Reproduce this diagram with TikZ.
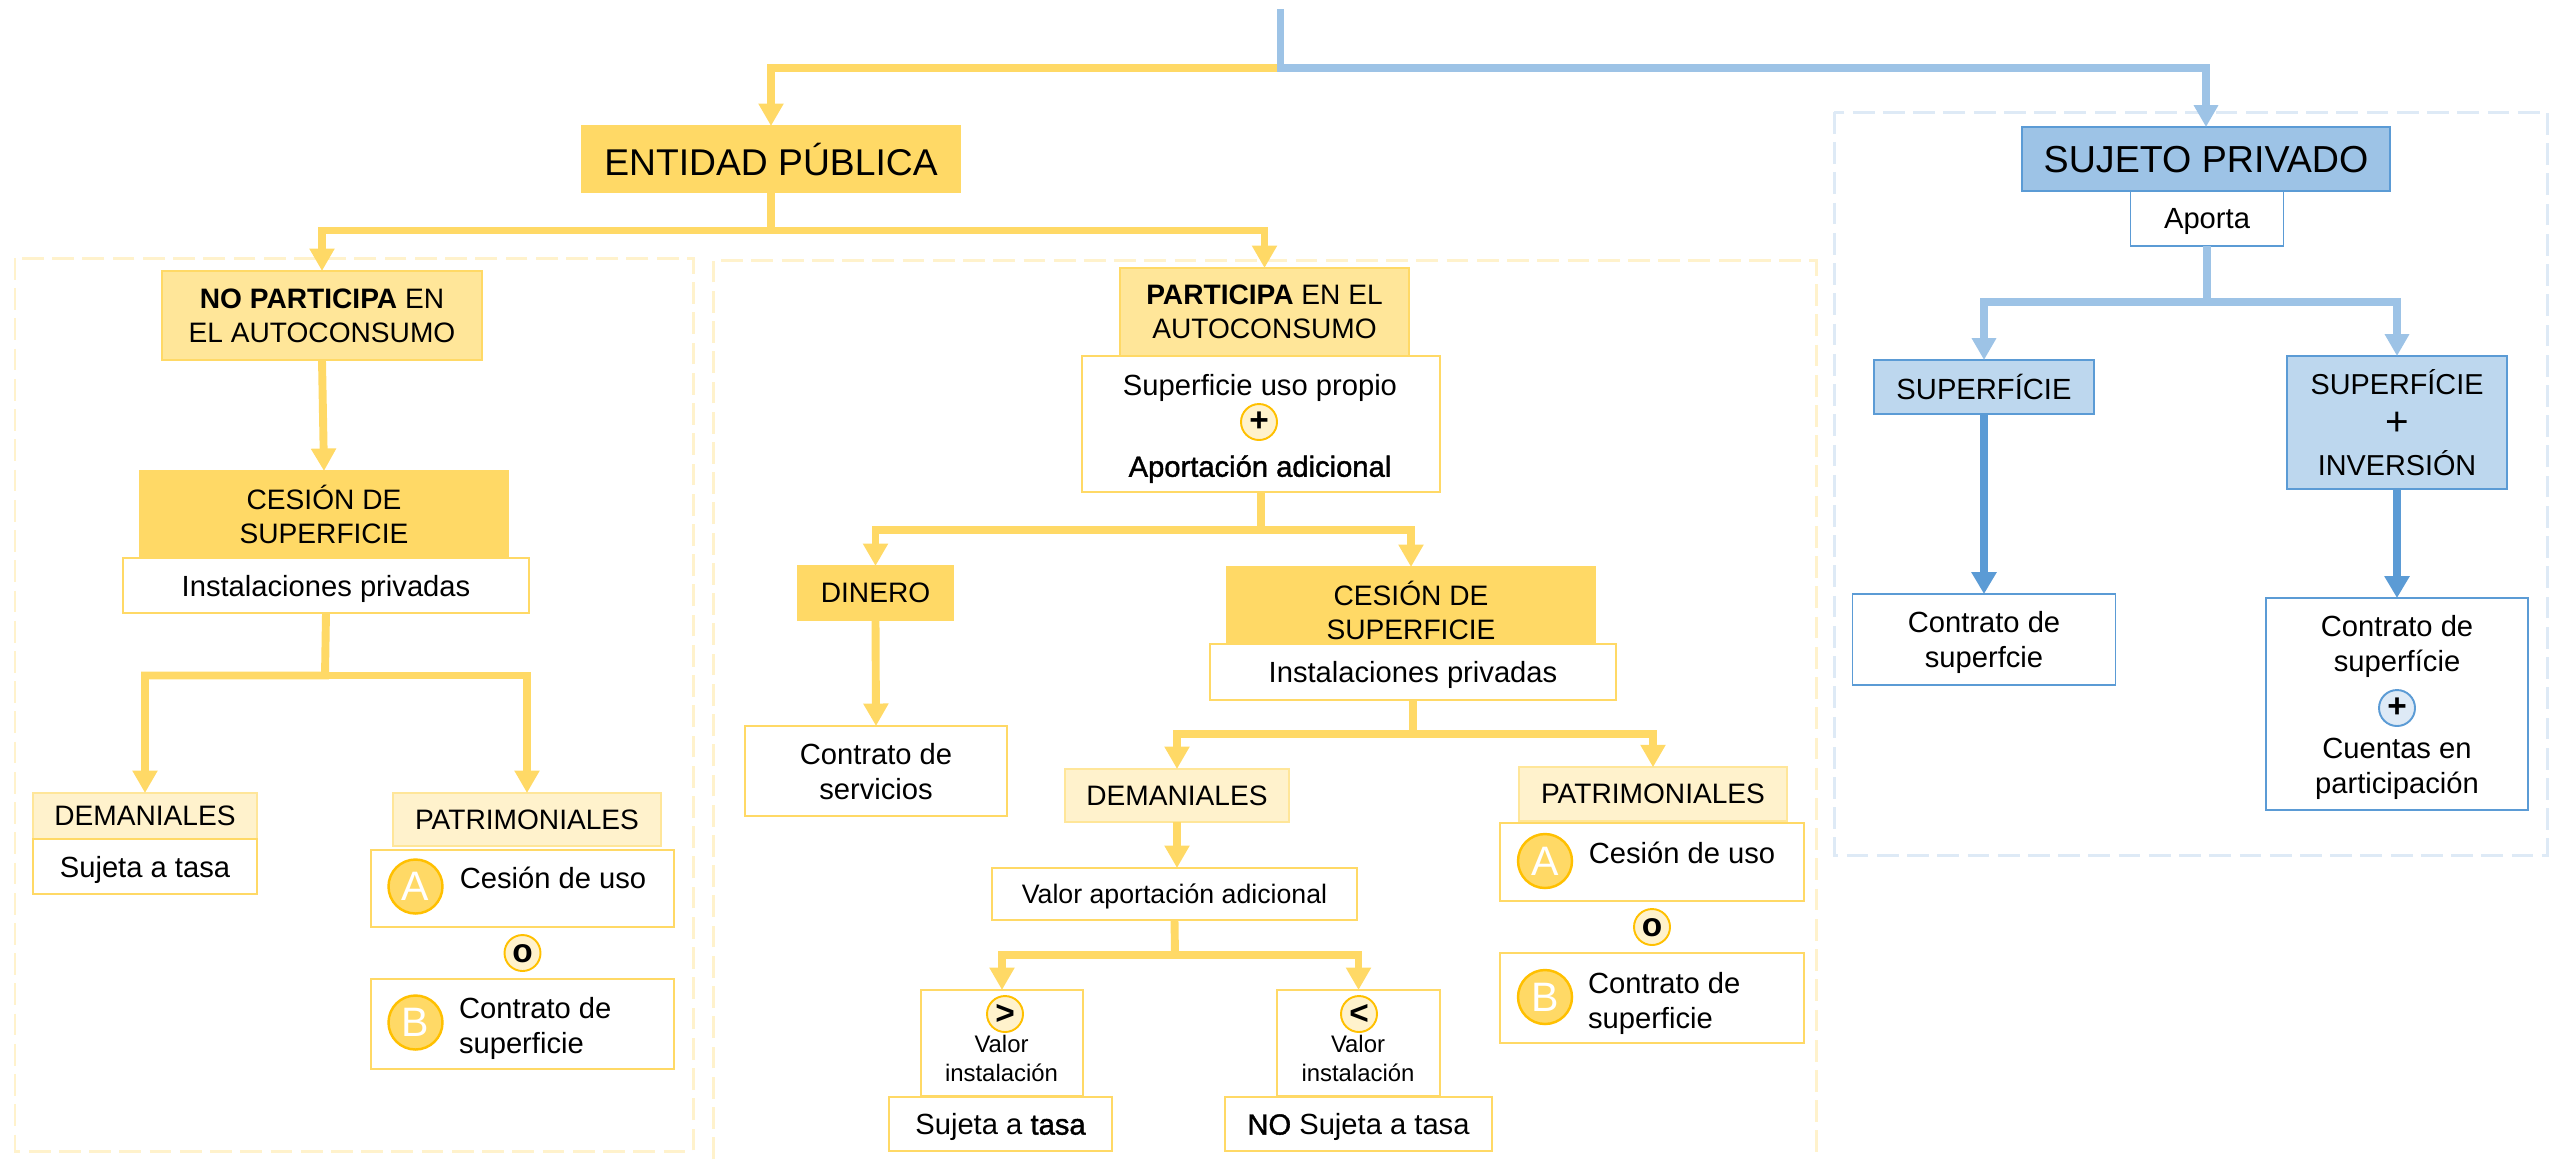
\documentclass[tikz,border=0pt]{standalone}
\usepackage{fontspec}
\setmainfont{Liberation Sans}
\newfontfamily\fakebold[FakeBold=1.3]{Liberation Sans}
\usetikzlibrary{arrows.meta}
\definecolor{ygold}{HTML}{FFD966}
\definecolor{ylight}{HTML}{FFE699}
\definecolor{ypale}{HTML}{FFF2CC}
\definecolor{yring}{HTML}{FFC000}
\definecolor{bmain}{HTML}{9DC3E6}
\definecolor{bsoft}{HTML}{BDD7EE}
\definecolor{bpale}{HTML}{DEEAF6}
\definecolor{bdark}{HTML}{5B9BD5}
\tikzset{
  every node/.style={inner sep=0pt,outer sep=0pt,align=center,text depth=0pt,font=\fontsize{8.3}{10}\selectfont},
  caps/.style={font=\fontsize{8}{9.7}\selectfont},
  bx/.style={line width=0.55pt},
  ygoldbx/.style={bx,caps,fill=ygold,draw=ygold},
  ylightbx/.style={bx,caps,fill=ylight,draw=ygold},
  ypalebx/.style={bx,caps,fill=ypale,draw=ylight},
  ywhitebx/.style={bx,fill=white,draw=ygold},
  bmainbx/.style={bx,fill=bmain,draw=bdark},
  bsoftbx/.style={bx,fill=bsoft,draw=bdark},
  bwhitebx/.style={bx,fill=white,draw=bdark},
  ymark/.style={circle,minimum size=0.36cm,fill=ypale,draw=yring,line width=0.55pt,font=\fontsize{9.5}{9.5}\selectfont\bfseries},
  bmark/.style={ymark,fill=bpale,draw=bdark},
  letter/.style={circle,minimum size=0.54cm,fill=ygold,draw=yring,line width=0.7pt,text=white,font=\fontsize{11.7}{12}\selectfont},
  small/.style={font=\fontsize{6.8}{8.25}\selectfont},
  fence/.style={dash pattern=on 6.2pt off 2.4pt,line width=0.85pt},
  yline/.style={color=ygold,line width=2.25pt},
  yarr/.style={yline,-{Triangle[length=6.4pt,width=6.8pt]}},
  barr/.style={color=bmain,line width=2.25pt,-{Triangle[length=6.2pt,width=6.6pt]}},
  darr/.style={color=bdark,line width=2.4pt,-{Triangle[length=6.2pt,width=6.8pt]}},
}
\begin{document}
\begin{tikzpicture}
        \useasboundingbox (0,0) rectangle (25.6,-11.59) ;
        %\draw[very thin,gray,step=1] (0,0) grid (25.6,-11.59) ;
        % dashed fences
        \draw[fence,ypale] (0.15,-2.58) rectangle (6.93,-11.51) ;
        \draw[fence,ypale] (7.13,-11.59) -- (7.13,-2.605) -- (18.16,-2.605) -- (18.16,-11.59) ;
        \draw[fence,bpale] (18.34,-1.12) rectangle (25.47,-8.55) ;

        \node[ygoldbx,minimum width=3.775cm,minimum height=0.66cm,font=\fontsize{10.6}{12}\selectfont] (entidad) at (7.71,-1.59) {ENTIDAD PÚBLICA} ;
        \node[bmainbx,minimum width=3.675cm,minimum height=0.64cm,font=\fontsize{10.7}{12}\selectfont] (sujeto) at (22.06,-1.59) {SUJETO PRIVADO} ;
        \node[bwhitebx,minimum width=1.53cm,minimum height=0.55cm] (aporta) at (22.07,-2.185) {Aporta} ;

        % no participa
        \node[ylightbx,minimum width=3.2cm,minimum height=0.89cm] (nopart) at (3.22,-3.155) {\textbf{NO PARTICIPA} EN\\EL AUTOCONSUMO} ;
        \node[ygoldbx,minimum width=3.68cm,minimum height=0.87cm] (cesA) at (3.24,-5.145) {CESIÓN DE\\SUPERFICIE} ;
        \node[ywhitebx,minimum width=4.06cm,minimum height=0.55cm] (instA) at (3.26,-5.855) {Instalaciones privadas} ;
        \node[ypalebx,minimum width=2.24cm,minimum height=0.46cm] (demA) at (1.45,-8.16) {DEMANIALES} ;
        \node[ywhitebx,minimum width=2.24cm,minimum height=0.55cm] (tasaA) at (1.45,-8.665) {Sujeta a tasa} ;
        \node[ypalebx,minimum width=2.68cm,minimum height=0.53cm] (patA) at (5.27,-8.195) {PATRIMONIALES} ;
        \node[ywhitebx,minimum width=3.03cm,minimum height=0.77cm] (usoA) at (5.225,-8.885) {} ;
        \node[ywhitebx,minimum width=3.03cm,minimum height=0.9cm] (supA) at (5.225,-10.24) {} ;
        \node[letter] (letAa) at (4.155,-8.865) {A} ;
        \node (txtAa) at (5.53,-8.78) {Cesión de uso} ;
        \node[ymark] (orA) at (5.225,-9.53) {o} ;
        \node[letter] (letAb) at (4.155,-10.225) {B} ;
        \node[anchor=west,align=left] (txtAb) at (4.59,-10.255) {Contrato de\\superficie} ;

        % participa
        \node[ylightbx,minimum width=2.89cm,minimum height=0.88cm] (part) at (12.645,-3.12) {\textbf{PARTICIPA} EN EL\\AUTOCONSUMO} ;
        \node[ywhitebx,minimum width=3.58cm,minimum height=1.36cm] (aport) at (12.61,-4.24) {} ;
        \node (usoprop) at (12.6,-3.85) {Superficie uso propio} ;
        \node[ymark] (plusP) at (12.59,-4.22) {+} ;
        \node (adic) at (12.6,-4.66) {{\fakebold Aportación adicional}} ;
        \node[ygoldbx,minimum width=1.55cm,minimum height=0.54cm] (dinero) at (8.755,-5.93) {DINERO} ;
        \node[ywhitebx,minimum width=2.62cm,minimum height=0.9cm] (serv) at (8.76,-7.71) {Contrato de\\servicios} ;
        \node[ygoldbx,minimum width=3.675cm,minimum height=0.87cm] (cesB) at (14.11,-6.105) {CESIÓN DE\\SUPERFICIE} ;
        \node[ywhitebx,minimum width=4.06cm,minimum height=0.56cm] (instB) at (14.13,-6.72) {Instalaciones privadas} ;
        \node[ypalebx,minimum width=2.24cm,minimum height=0.53cm] (demB) at (11.77,-7.955) {DEMANIALES} ;
        \node[ywhitebx,minimum width=3.65cm,minimum height=0.52cm,font=\fontsize{7.6}{9}\selectfont] (valor) at (11.745,-8.94) {Valor aportación adicional} ;
        \node[ywhitebx,minimum width=1.62cm,minimum height=1.06cm] (mayor) at (10.02,-10.43) {} ;
        \node[ywhitebx,minimum width=1.63cm,minimum height=1.06cm] (menor) at (13.585,-10.43) {} ;
        \node[ymark] (gt) at (10.05,-10.14) {>} ;
        \node[ymark] (lt) at (13.59,-10.14) {<} ;
        \node[small] (valgt) at (10.015,-10.585) {Valor\\instalación} ;
        \node[small] (vallt) at (13.58,-10.585) {Valor\\instalación} ;
        \node[ywhitebx,minimum width=2.23cm,minimum height=0.54cm] (tasaB) at (10.005,-11.24) {Sujeta a {\fakebold tasa}} ;
        \node[ywhitebx,minimum width=2.67cm,minimum height=0.54cm] (notasa) at (13.585,-11.24) {{\fakebold NO} Sujeta a tasa} ;
        \node[ypalebx,minimum width=2.68cm,minimum height=0.535cm] (patB) at (16.53,-7.94) {PATRIMONIALES} ;
        \node[ywhitebx,minimum width=3.04cm,minimum height=0.78cm] (usoB) at (16.52,-8.62) {} ;
        \node[ywhitebx,minimum width=3.04cm,minimum height=0.9cm] (supB) at (16.52,-9.98) {} ;
        \node[letter] (letBa) at (15.45,-8.61) {A} ;
        \node (txtBa) at (16.82,-8.525) {Cesión de uso} ;
        \node[ymark] (orB) at (16.52,-9.27) {o} ;
        \node[letter] (letBb) at (15.45,-9.97) {B} ;
        \node[anchor=west,align=left] (txtBb) at (15.88,-10.005) {Contrato de\\superficie} ;

        % sujeto privado
        \node[bsoftbx,minimum width=2.2cm,minimum height=0.54cm] (sup) at (19.84,-3.87) {SUPERFÍCIE} ;
        \node[bsoftbx,minimum width=2.2cm,minimum height=1.33cm,font=\fontsize{8.2}{11.4}\selectfont] (supinv) at (23.97,-4.225) {SUPERFÍCIE\\{\fontsize{11.5}{11.4}\selectfont +}\\INVERSIÓN} ;
        \node[bwhitebx,minimum width=2.63cm,minimum height=0.91cm] (contr) at (19.84,-6.395) {Contrato de\\superfcie} ;
        \node[bwhitebx,minimum width=2.62cm,minimum height=2.12cm] (cuentas) at (23.97,-7.04) {} ;
        \node (txtcontr) at (23.97,-6.435) {Contrato de\\superfície} ;
        \node[bmark] (plusS) at (23.97,-7.08) {+} ;
        \node (txtcuen) at (23.97,-7.655) {Cuentas en\\participación} ;

        % connectors
        \coordinate (root) at (12.805,-0.09) ;
        \coordinate (rootj) at (12.805,-0.68) ;
        \coordinate (entj) at (7.71,-2.305) ;
        \coordinate (instAj) at (3.25,-6.755) ;
        \coordinate (aportj) at (12.61,-5.3) ;
        \coordinate (instBj) at (14.13,-7.34) ;
        \coordinate (valj) at (11.75,-9.55) ;
        \coordinate (aporj) at (22.07,-3.02) ;
        \draw[yarr] (rootj) -| (entidad.north) ;
        \draw[barr] (root) -- (rootj) -| (sujeto.north) ;
        \draw[yarr] (entidad.south) -- (entj) -| (nopart.north) ;
        \draw[yarr] (entj) -| (part.north) ;
        \draw[yarr] (nopart.south) -- (cesA.north) ;
        \draw[yarr] (instA.south) -- (instAj) -| (demA.north) ;
        \draw[yarr] (instAj) -| (patA.north) ;
        \draw[yarr] (aport.south) -- (aportj) -| (dinero.north) ;
        \draw[yarr] (aportj) -| (cesB.north) ;
        \draw[yarr] (dinero.south) -- (serv.north) ;
        \draw[yarr] (instB.south) -- (instBj) -| (demB.north) ;
        \draw[yarr] (instBj) -| (patB.north) ;
        \draw[yarr] (demB.south) -- (valor.north -| demB.south) ;
        \draw[yarr] (valor.south) -- (valj) -| (mayor.north) ;
        \draw[yarr] (valj) -| (menor.north) ;
        \draw[barr] (aporta.south) -- (aporj) -| (sup.north) ;
        \draw[barr] (aporj) -| (supinv.north) ;
        \draw[darr] (sup.south) -- (contr.north) ;
        \draw[darr] (supinv.south) -- (cuentas.north) ;
\end{tikzpicture}
\end{document}
